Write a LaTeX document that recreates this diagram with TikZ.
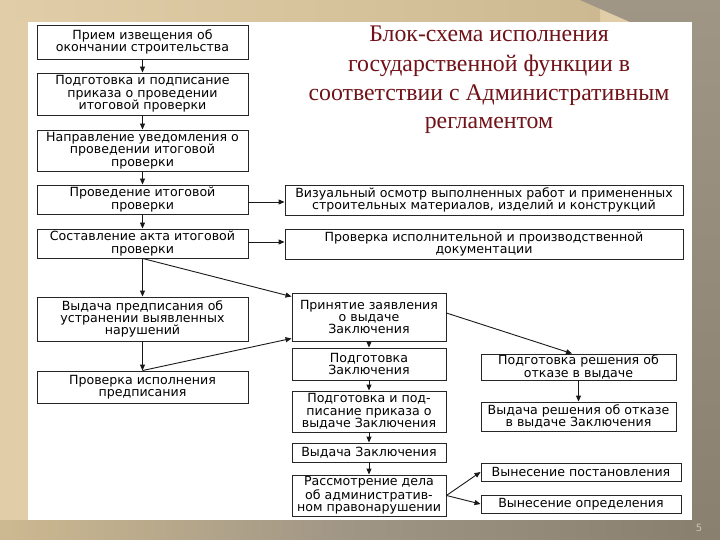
\documentclass[tikz,border=0pt]{standalone}
\usepackage{fontspec}
\setmainfont{DejaVu Sans}
\newfontfamily\titlefont{Liberation Serif}
\usetikzlibrary{arrows.meta}
\definecolor{bgbeige}{RGB}{225,206,168}
\definecolor{bgbeigedark}{RGB}{205,185,145}
\definecolor{bggrey}{RGB}{160,150,134}
\definecolor{bggreydark}{RGB}{138,128,112}
\definecolor{titlered}{RGB}{112,18,24}
\definecolor{pagenum}{RGB}{200,194,182}
\begin{document}
\begin{tikzpicture}[x=1pt,y=-1pt,
  box/.style={draw=black!85, line width=0.9pt, fill=white, align=center, inner sep=0pt,
              font=\fontsize{12.6}{12.4}\selectfont, text=black},
  arr/.style={draw=black!90, line width=0.9pt, -{Triangle[length=6pt,width=5pt]}},
  ttl/.style={anchor=base, inner sep=0pt, text=titlered, font=\titlefont\fontsize{23.8}{29}\selectfont}]
\useasboundingbox (0,0) rectangle (720,540);
% background
\fill[bgbeige] (0,0) rectangle (720,540);
\shade[left color=bgbeige, right color=bgbeigedark] (0,0) rectangle (600,22);
\shade[top color=bggrey, bottom color=bggreydark] (580,0) -- (720,0) -- (720,540) -- (692,540) -- (692,22) -- (630,22) -- cycle;
\shade[left color=bgbeigedark, right color=bggreydark, middle color=bggrey] (0,520) rectangle (692,540);
\fill[white] (28,22) rectangle (692,520);
% title
\node[ttl] (t1) at (489,42) {Блок-схема исполнения};
\node[ttl] (t2) at (489,71.5) {государственной функции в};
\node[ttl] (t3) at (489,100.5) {соответствии с Административным};
\node[ttl] (t4) at (489,128.5) {регламентом};
% left column
\node[box, minimum width=211pt, minimum height=34pt] (L1) at (142.5,42) {Прием извещения об\\окончании строительства};
\node[box, minimum width=211pt, minimum height=42pt] (L2) at (142.5,94) {Подготовка и подписание\\приказа о проведении\\итоговой проверки};
\node[box, minimum width=211pt, minimum height=41pt] (L3) at (142.5,150.5) {Направление уведомления о\\проведении итоговой\\проверки};
\node[box, minimum width=211pt, minimum height=29pt] (L4) at (142.5,199.5) {Проведение итоговой\\проверки};
\node[box, minimum width=211pt, minimum height=29pt] (L5) at (142.5,243.5) {Составление акта итоговой\\проверки};
\node[box, minimum width=211pt, minimum height=44pt] (L6) at (142.5,319) {Выдача предписания об\\устранении выявленных\\нарушений};
\node[box, minimum width=211pt, minimum height=32pt] (L7) at (142.5,387) {Проверка исполнения\\предписания};
% right wide boxes
\node[box, minimum width=398pt, minimum height=30pt] (R1) at (484,200) {Визуальный осмотр выполненных работ и примененных\\строительных материалов, изделий и конструкций};
\node[box, minimum width=398pt, minimum height=30pt] (R2) at (484,244) {Проверка исполнительной и производственной\\документации};
% middle column
\node[box, minimum width=154pt, minimum height=48pt] (M1) at (369,317) {Принятие заявления\\о выдаче\\Заключения};
\node[box, minimum width=154pt, minimum height=32pt] (M2) at (369,364) {Подготовка\\Заключения};
\node[box, minimum width=154pt, minimum height=41pt] (M3) at (369,411.5) {Подготовка и под-\\писание приказа о\\выдаче Заключения};
\node[box, minimum width=154pt, minimum height=19pt] (M4) at (369,452.5) {Выдача Заключения};
\node[box, minimum width=154pt, minimum height=41pt] (M5) at (369,495.5) {Рассмотрение дела\\об административ-\\ном правонарушении};
% right column
\node[box, minimum width=195pt, minimum height=26pt] (X1) at (578.5,367) {Подготовка решения об\\отказе в выдаче};
\node[box, minimum width=195pt, minimum height=29pt] (X2) at (578.5,416.5) {Выдача решения об отказе\\в выдаче Заключения};
\node[box, minimum width=200pt, minimum height=18pt] (X3) at (581,472) {Вынесение постановления};
\node[box, minimum width=200pt, minimum height=18pt] (X4) at (581,504) {Вынесение определения};
% page number
\node[inner sep=0pt, text=pagenum, font=\fontsize{10}{10}\selectfont] (pg) at (699,528) {5};
% connectors
\draw[arr] (L1) -- (L2);
\draw[arr] (L2) -- (L3);
\draw[arr] (L3) -- (L4);
\draw[arr] (L4) -- (L5);
\draw[arr] (L5) -- (L6);
\draw[arr] (L6) -- (L7);
\draw[arr] ([yshift=-2.5pt]L4.east) -- ([yshift=-2.5pt]L4.east -| R1.west);
\draw[arr] ([yshift=1.5pt]L5.east) -- ([yshift=1.5pt]L5.east -| R2.west);
\draw[arr] (L5.south) -- ([yshift=-4pt]M1.north west);
\draw[arr] (L7.north) -- ([yshift=3pt]M1.south west);
\draw[arr] (M1) -- (M2);
\draw[arr] (M2) -- (M3);
\draw[arr] (M3) -- (M4);
\draw[arr] (M4) -- (M5);
\draw[arr] ([yshift=4pt]M1.east) -- ([xshift=-6.5pt]X1.north);
\draw[arr] (X1) -- (X2);
\draw[arr] (M5.east) -- (X3.west);
\draw[arr] (M5.east) -- (X4.west);
\end{tikzpicture}
\end{document}
